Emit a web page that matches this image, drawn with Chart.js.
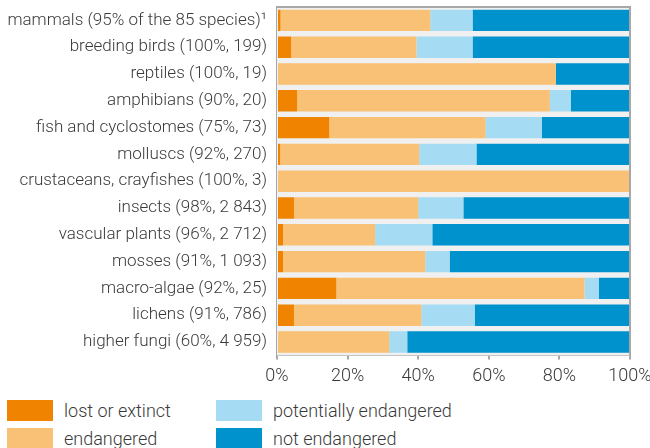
<!DOCTYPE html>
<html>
<head>
<meta charset="utf-8">
<script src="https://cdn.jsdelivr.net/npm/chart.js@4"></script>
<style>
  body { margin: 0; background: #fff; font-family: Roboto, sans-serif; font-weight: 300; color: #3a3a3a; }
  #wrap { position: relative; width: 650px; height: 448px; overflow: hidden; }
  #chartBox { position: absolute; left: 0; top: 0; width: 650px; height: 393px; }
  .leg { position: absolute; display: flex; align-items: center; font-size: 18px; height: 21px; }
  .leg span.box { display: inline-block; width: 46px; height: 21px; margin-right: 11px; }
</style>
</head>
<body>
<div id="wrap">
  <div id="chartBox"><canvas id="chart"></canvas></div>
  <div id="legend"></div>
</div>
<script>
const categories = [
  "mammals (95% of the 85 species)\u00b9",
  "breeding birds (100%, 199)",
  "reptiles (100%, 19)",
  "amphibians (90%, 20)",
  "fish and cyclostomes (75%, 73)",
  "molluscs (92%, 270)",
  "crustaceans, crayfishes (100%, 3)",
  "insects (98%, 2 843)",
  "vascular plants (96%, 2 712)",
  "mosses (91%, 1 093)",
  "macro-algae (92%, 25)",
  "lichens (91%, 786)",
  "higher fungi (60%, 4 959)"
];
const lostOrExtinct = [1, 4, 0, 5.7, 14.8, 0.9, 0, 4.8, 1.7, 1.7, 16.8, 4.8, 0];
const endangered = [42.4, 35.5, 79, 71.6, 44.3, 39.4, 100, 35.2, 26.1, 40.3, 70.3, 36.1, 31.8];
const potentiallyEndangered = [12, 15.9, 0, 5.9, 15.9, 16.2, 0, 12.8, 16.2, 6.9, 4.1, 15.1, 5.1];
const notEndangered = [44.6, 44.6, 21, 16.8, 25, 43.5, 0, 47.2, 56, 51.1, 8.8, 44, 63.1];
const xTicks = [0, 20, 40, 60, 80, 100];

const seriesNames = ["lost or extinct", "endangered", "potentially endangered", "not endangered"];
const seriesColors = ["#f08300", "#f8c175", "#a5dbf3", "#0092cd"];
const seriesData = [lostOrExtinct, endangered, potentiallyEndangered, notEndangered];

// plot background + top/right frame
const frame = {
  id: 'frame',
  beforeDatasetsDraw(chart) {
    const a = chart.chartArea, ctx = chart.ctx;
    ctx.save();
    ctx.fillStyle = '#eff0ef';
    ctx.fillRect(a.left, a.top, a.right - a.left, a.bottom - a.top);
    ctx.restore();
  },
  afterDraw(chart) {
    const a = chart.chartArea, ctx = chart.ctx;
    ctx.save();
    ctx.strokeStyle = '#a8a8a8';
    ctx.lineWidth = 2;
    ctx.beginPath();
    ctx.moveTo(a.left, a.top);
    ctx.lineTo(a.right, a.top);
    ctx.lineTo(a.right, a.bottom);
    ctx.stroke();
    ctx.restore();
  }
};

Chart.defaults.font.family = "Roboto, sans-serif";
Chart.defaults.font.weight = 300;
Chart.defaults.font.size = 17;
Chart.defaults.color = "#3a3a3a";

new Chart(document.getElementById('chart'), {
  type: 'bar',
  data: {
    labels: categories,
    datasets: seriesNames.map((n, i) => ({
      label: n,
      data: seriesData[i],
      backgroundColor: seriesColors[i],
      borderWidth: 0,
      barPercentage: 0.8,
      categoryPercentage: 1
    }))
  },
  options: {
    indexAxis: 'y',
    responsive: true,
    maintainAspectRatio: false,
    animation: false,
    layout: { padding: { top: 7, right: 0, left: 0 } },
    plugins: { legend: { display: false }, tooltip: { enabled: false } },
    scales: {
      x: {
        stacked: true,
        min: 0,
        max: 100,
        afterBuildTicks: s => { s.ticks = xTicks.map(v => ({ value: v })); },
        afterFit: s => { s.paddingRight = 20; s.paddingLeft = 0; },
        ticks: { callback: v => v + '%', padding: 6, maxRotation: 0, font: { size: 18 } },
        grid: { color: '#a8a8a8', lineWidth: 2, tickLength: 4 },
        border: { display: true, color: '#a8a8a8', width: 2 }
      },
      y: {
        stacked: true,
        afterFit: s => { s.width = 277; s.paddingTop = 0; s.paddingBottom = 0; },
        ticks: { padding: 10 },
        grid: { display: false, drawTicks: false },
        border: { display: true, color: '#a8a8a8', width: 2 }
      }
    }
  },
  plugins: [frame]
});

// legend, two columns
const legendPos = [[7, 400], [7, 428], [216, 400], [216, 428]];
const legend = document.getElementById('legend');
seriesNames.forEach((n, i) => {
  const d = document.createElement('div');
  d.className = 'leg';
  d.style.left = legendPos[i][0] + 'px';
  d.style.top = legendPos[i][1] + 'px';
  d.innerHTML = '<span class="box" style="background:' + seriesColors[i] + '"></span>' + n;
  legend.appendChild(d);
});
</script>
</body>
</html>
